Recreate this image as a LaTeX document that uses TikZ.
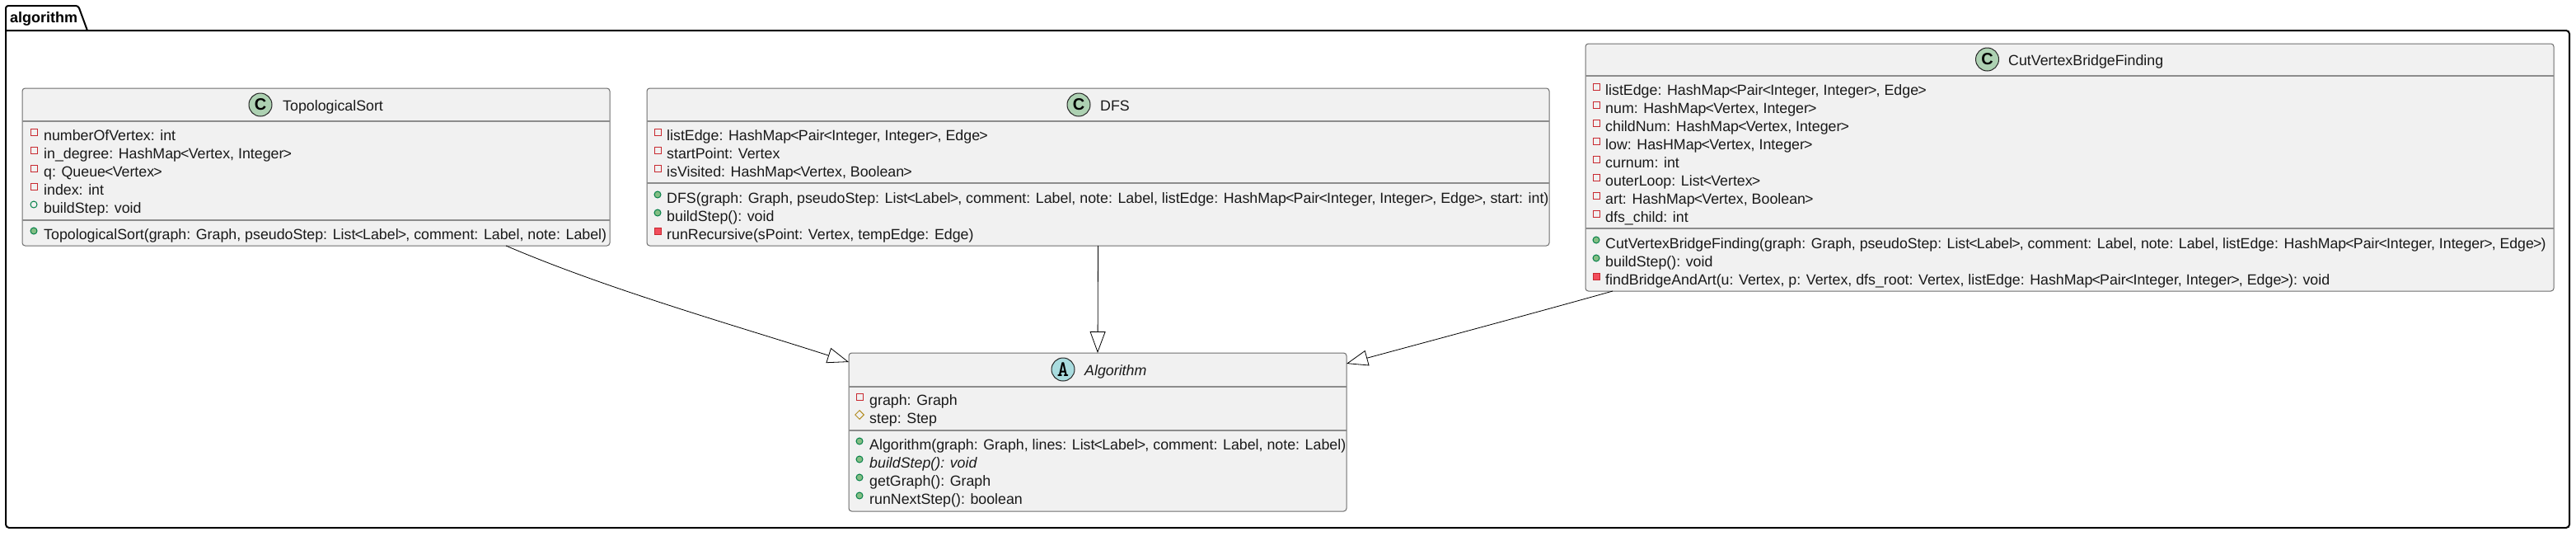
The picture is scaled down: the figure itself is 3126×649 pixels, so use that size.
\documentclass[tikz,border=0pt]{standalone}
\usepackage{fontspec}
\setmainfont[Ligatures=NoCommon]{Liberation Sans}
\usetikzlibrary{arrows.meta,shapes.geometric}
\definecolor{boxfill}{HTML}{F1F1F1}
\definecolor{boxline}{HTML}{6E6E6E}
\definecolor{sepline}{HTML}{8C8C8C}
\definecolor{privline}{HTML}{C82930}
\definecolor{privfill}{HTML}{F24D5C}
\definecolor{publine}{HTML}{038048}
\definecolor{pubfill}{HTML}{84BE84}
\definecolor{protline}{HTML}{B38D22}
\definecolor{classspot}{HTML}{ADD1B2}
\definecolor{abstractspot}{HTML}{A9DCDF}
\newcommand{\umlfont}{\fontsize{17.8pt}{21pt}\selectfont}
\newcommand{\LB}{\kern-.85pt<\kern-.85pt}
\newcommand{\RB}{\kern-.85pt>\kern-.85pt}
\newcounter{memb}
% \memb{icon x}{text x}{row y}{icon style}{text}
\newcommand{\memb}[5]{%
  \stepcounter{memb}%
  \node[#4] (ic\arabic{memb}) at (#1,#3-4) {};
  \node[membertext] (tx\arabic{memb}) at (#2,#3+6) {#5};
}
\tikzset{
  x=1pt,y=-1pt,
  classbox/.style={draw=boxline,fill=boxfill,line width=1pt,rounded corners=3.5pt,inner sep=0pt,outer sep=0pt,anchor=north west},
  sepstyle/.style={draw=sepline,line width=1.2pt},
  membertext/.style={anchor=base west,inner sep=0pt,font=\umlfont,text=black!90},
  titletext/.style={anchor=base west,inner sep=0pt,font=\umlfont,text=black!90},
  privfield/.style={draw=privline,fill=none,line width=1pt,rectangle,inner sep=0pt,minimum size=8pt},
  privmethod/.style={draw=privline,fill=privfill,line width=1pt,rectangle,inner sep=0pt,minimum size=8pt},
  pubfield/.style={draw=publine,fill=none,line width=1pt,circle,inner sep=0pt,minimum size=8pt},
  pubmethod/.style={draw=publine,fill=pubfill,line width=1pt,circle,inner sep=0pt,minimum size=8pt},
  protfield/.style={draw=protline,fill=none,line width=1pt,diamond,inner sep=0pt,minimum size=11pt},
  spotc/.style={draw=black!85,fill=classspot,line width=1pt,circle,inner sep=0pt,minimum size=28pt,font=\fontsize{20pt}{20pt}\selectfont\bfseries},
  spota/.style={draw=black!85,fill=abstractspot,line width=1pt,circle,inner sep=0pt,minimum size=28pt,font=\fontsize{27pt}{27pt}\selectfont\ttfamily\bfseries},
  extends/.style={draw=black,line width=.8pt,-{Triangle[open,length=26pt,width=19pt,fill=white]}},
}
\begin{document}
\begin{tikzpicture}
\useasboundingbox[fill=white] (0,0) rectangle (3126,649);
% package
\draw[black,line width=2pt,rounded corners=3pt] (7,37) -- (7,7) -- (95,7) -- (106,37);
\draw[black,line width=2pt,rounded corners=4pt] (7,37) -- (7,640) -- (3118,640) -- (3118,37) -- (7,37);
\node[anchor=base west,inner sep=0pt,font=\fontsize{18pt}{20pt}\selectfont\bfseries] (pkg) at (12,27) {algorithm};

% TopologicalSort
\node[classbox,minimum width=713pt,minimum height=191pt] (ts) at (27,107) {};
\draw[sepstyle] (27,147) -- (740,147);
\draw[sepstyle] (27,267) -- (740,267);
\node[spotc] (tsspot) at (316,127) {C};
\node[titletext] (tstitle) at (343,134) {TopologicalSort};
\memb{41}{53}{164}{privfield}{numberOfVertex: int}
\memb{41}{53}{186}{privfield}{in\_degree: HashMap\LB Vertex, Integer\RB}
\memb{41}{53}{208}{privfield}{q: Queue\LB Vertex\RB}
\memb{41}{53}{230}{privfield}{index: int}
\memb{41}{53}{252}{pubfield}{buildStep: void}
\memb{41}{53}{284}{pubmethod}{TopologicalSort(graph: Graph, pseudoStep: List\LB Label\RB, comment: Label, note: Label)}

% DFS
\node[classbox,minimum width=1095pt,minimum height=191pt] (dfs) at (785,107) {};
\draw[sepstyle] (785,147) -- (1880,147);
\draw[sepstyle] (785,222) -- (1880,222);
\node[spotc] (dfsspot) at (1309,127) {C};
\node[titletext] (dfstitle) at (1335,134) {DFS};
\memb{798}{809}{164}{privfield}{listEdge: HashMap\LB Pair\LB Integer, Integer\RB, Edge\RB}
\memb{798}{809}{186}{privfield}{startPoint: Vertex}
\memb{798}{809}{208}{privfield}{isVisited: HashMap\LB Vertex, Boolean\RB}
\memb{798}{809}{240}{pubmethod}{DFS(graph: Graph, pseudoStep: List\LB Label\RB, comment: Label, note: Label, listEdge: HashMap\LB Pair\LB Integer, Integer\RB, Edge\RB, start: int)}
\memb{798}{809}{262}{pubmethod}{buildStep(): void}
\memb{798}{809}{284}{privmethod}{runRecursive(sPoint: Vertex, tempEdge: Edge)}

% CutVertexBridgeFinding
\node[classbox,minimum width=1175pt,minimum height=300pt] (cut) at (1924,53) {};
\draw[sepstyle] (1924,92) -- (3099,92);
\draw[sepstyle] (1924,277) -- (3099,277);
\node[spotc] (cutspot) at (2411.5,72) {C};
\node[titletext] (cuttitle) at (2437,79) {CutVertexBridgeFinding};
\memb{1937}{1948}{109}{privfield}{listEdge: HashMap\LB Pair\LB Integer, Integer\RB, Edge\RB}
\memb{1937}{1948}{131}{privfield}{num: HashMap\LB Vertex, Integer\RB}
\memb{1937}{1948}{153}{privfield}{childNum: HashMap\LB Vertex, Integer\RB}
\memb{1937}{1948}{175}{privfield}{low: HasHMap\LB Vertex, Integer\RB}
\memb{1937}{1948}{197}{privfield}{curnum: int}
\memb{1937}{1948}{219}{privfield}{outerLoop: List\LB Vertex\RB}
\memb{1937}{1948}{241}{privfield}{art: HashMap\LB Vertex, Boolean\RB}
\memb{1937}{1948}{263}{privfield}{dfs\_child: int}
\memb{1937}{1948}{295}{pubmethod}{\fontsize{17.7pt}{21pt}\selectfont CutVertexBridgeFinding(graph: Graph, pseudoStep: List\LB Label\RB, comment: Label, note: Label, listEdge: HashMap\LB Pair\LB Integer, Integer\RB, Edge\RB)}
\memb{1937}{1948}{317}{pubmethod}{buildStep(): void}
\memb{1937}{1948}{339}{privmethod}{findBridgeAndArt(u: Vertex, p: Vertex, dfs\_root: Vertex, listEdge: HashMap\LB Pair\LB Integer, Integer\RB, Edge\RB): void}

% Algorithm
\node[classbox,minimum width=604pt,minimum height=192pt] (alg) at (1030,428) {};
\draw[sepstyle] (1030,469) -- (1634,469);
\draw[sepstyle] (1030,522) -- (1634,522);
\node[spota] (algspot) at (1290,448) {A};
\node[titletext,font=\umlfont\itshape] (algtitle) at (1316,455) {Algorithm};
\memb{1043}{1055}{485}{privfield}{graph: Graph}
\memb{1043}{1055}{507}{protfield}{step: Step}
\memb{1043}{1055}{539}{pubmethod}{Algorithm(graph: Graph, lines: List\LB Label\RB, comment: Label, note: Label)}
\memb{1043}{1055}{561}{pubmethod}{\itshape buildStep(): void}
\memb{1043}{1055}{583}{pubmethod}{getGraph(): Graph}
\memb{1043}{1055}{605}{pubmethod}{runNextStep(): boolean}

% inheritance
\draw[extends] ([xshift=587pt]ts.south west) .. controls (740,352) and (900,397) .. ([yshift=-11pt]alg.north west);
\draw[extends] (dfs.south) -- (alg.north);
\draw[extends] ([xshift=33pt]cut.south west) .. controls (1850,383) and (1700,423) .. ([yshift=-13pt]alg.north east);
\end{tikzpicture}
\end{document}
